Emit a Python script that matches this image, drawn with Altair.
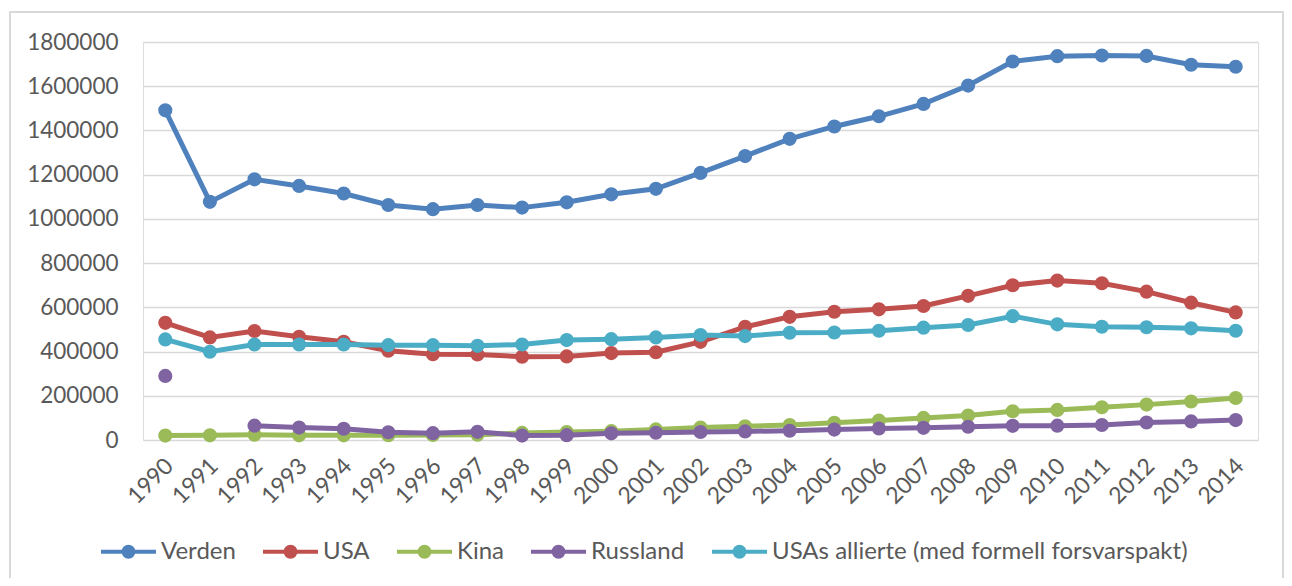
import altair as alt
import pandas as pd

years = list(range(1990, 2015))
series_names = ["Verden", "USA", "Kina", "Russland", "USAs allierte (med formell forsvarspakt)"]
colors = ["#4F81BD", "#C0504D", "#9BBB59", "#8064A2", "#4BACC6"]

verden = [1491000, 1077000, 1179000, 1149000, 1115000, 1063000, 1044000, 1063000, 1051000, 1075000,
          1111000, 1136000, 1208000, 1284000, 1362000, 1418000, 1464000, 1520000, 1603000, 1712000,
          1736000, 1739000, 1737000, 1697000, 1688000]
usa = [530000, 464000, 493000, 467000, 444000, 404000, 388000, 387000, 377000, 378000,
       393000, 397000, 444000, 512000, 557000, 580000, 591000, 606000, 652000, 700000,
       721000, 709000, 671000, 621000, 577000]
kina = [20000, 21000, 24000, 21000, 21000, 22000, 23000, 24000, 32000, 36000,
        40000, 48000, 56000, 62000, 68000, 78000, 88000, 100000, 111000, 130000,
        136000, 148000, 160000, 174000, 190000]
russland = [290000, None, 65000, 56000, 51000, 35000, 31000, 37000, 20000, 22000,
            30000, 33000, 36000, 39000, 42000, 47000, 52000, 55000, 60000, 64000,
            65000, 68000, 79000, 84000, 90000]
allierte = [455000, 399000, 432000, 432000, 432000, 429000, 429000, 426000, 432000, 452000,
            456000, 464000, 475000, 470000, 485000, 486000, 494000, 508000, 520000, 560000,
            523000, 512000, 510000, 505000, 494000]
y_ticks = list(range(0, 1800001, 200000))

rows = []
for name, vals in zip(series_names, [verden, usa, kina, russland, allierte]):
    seg = 0
    for yr, v in zip(years, vals):
        if v is None:
            seg += 1
            continue
        rows.append({"Aar": str(yr), "Serie": name, "Verdi": v, "Segment": f"{name}-{seg}"})
df = pd.DataFrame(rows)

FONT = "Lato"
TXT = "#595959"

legend_path = ("M-1,0L1,0"
               "M-0.18,0A0.18,0.18 0 1,0 0.18,0A0.18,0.18 0 1,0 -0.18,0Z"
               "M-0.07,0A0.07,0.07 0 1,0 0.07,0A0.07,0.07 0 1,0 -0.07,0Z")

color = alt.Color(
    "Serie:N",
    scale=alt.Scale(domain=series_names, range=colors),
    legend=alt.Legend(
        title=None, orient="none", legendX=-44, legendY=480, direction="horizontal",
        symbolType=legend_path, symbolSize=3025, symbolStrokeWidth=4,
        labelFont=FONT, labelFontSize=24, labelColor=TXT, labelOffset=3,
        columnPadding=19, labelLimit=700,
    ),
)
x = alt.X(
    "Aar:O",
    scale=alt.Scale(type="point", padding=0.5),
    sort=[str(y) for y in years],
    axis=alt.Axis(title=None, labelAngle=-45, labelAlign="right", labelBaseline="middle",
                  labelFont=FONT, labelFontSize=23, labelColor=TXT, domain=False, ticks=False,
                  grid=False, labelPadding=22, labelOffset=4),
)
y = alt.Y(
    "Verdi:Q",
    scale=alt.Scale(domain=[0, 1800000], nice=False),
    axis=alt.Axis(title=None, values=y_ticks, format="d", domain=False, ticks=False,
                  labelFont=FONT, labelFontSize=22.5, labelColor=TXT, labelPadding=25,
                  gridColor="#d9d9d9", gridWidth=1.5),
)

base = alt.Chart(df)
layers = []
for name in series_names:
    sub = base.transform_filter(alt.datum.Serie == name)
    layers.append(sub.mark_line(strokeWidth=5).encode(x=x, y=y, color=color, detail="Segment:N"))
    layers.append(sub.mark_circle(size=200, opacity=1).encode(x=x, y=y, color=color))

border = alt.Chart(df).mark_rect(filled=False, stroke="#d9d9d9", strokeWidth=1.5).encode(
    x=alt.value(-133), x2=alt.value(1140), y=alt.value(-30), y2=alt.value(560)
)

chart = alt.layer(border, *layers).properties(
    width=1115, height=398,
    autosize=alt.AutoSizeParams(type="none"),
    padding={"left": 135, "top": 34, "right": 26, "bottom": 138},
).configure_view(stroke=None).configure(background="white")

chart.save("out.html", embed_options={"renderer": "svg", "actions": False})
